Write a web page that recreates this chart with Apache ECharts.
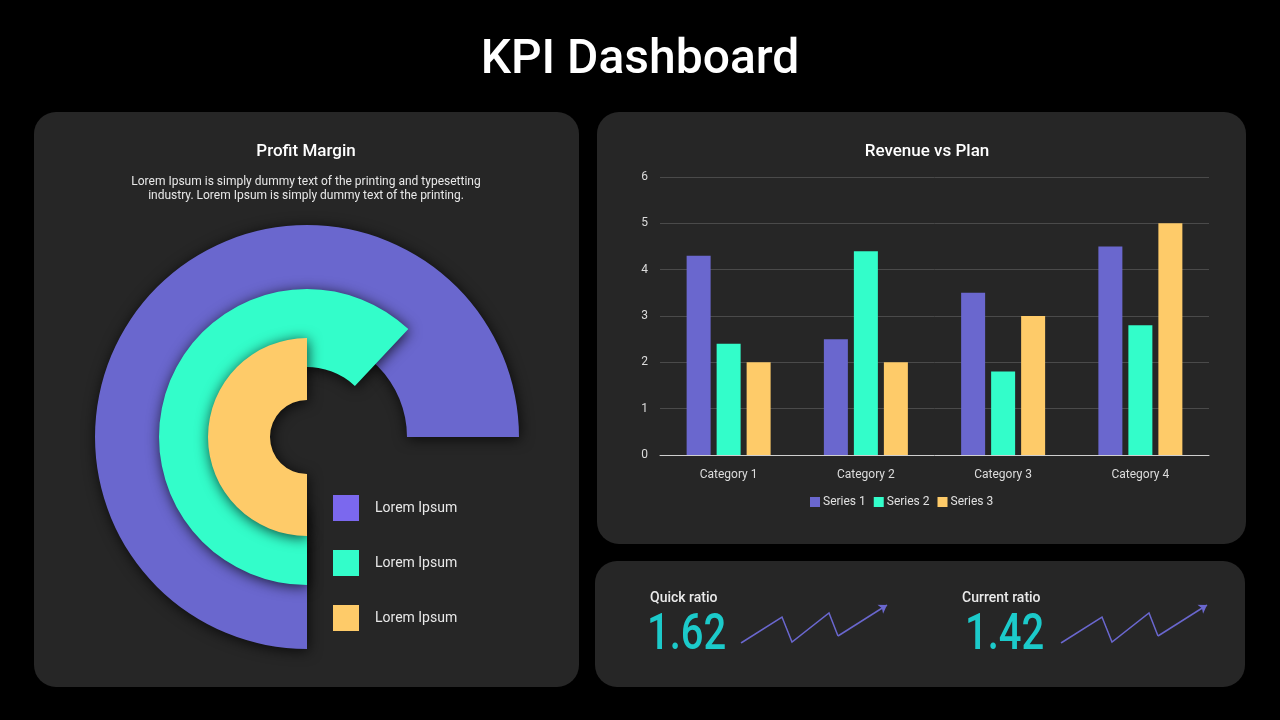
<!DOCTYPE html>
<html>
<head>
<meta charset="utf-8">
<script src="https://cdn.jsdelivr.net/npm/echarts@6/dist/echarts.min.js"></script>
<style>
html,body{margin:0;padding:0;background:#000;}
#c{width:1280px;height:720px;}
</style>
</head>
<body>
<div id="c"></div>
<script>
// ---- data ----
var pieNames = ['Lorem Ipsum A', 'Lorem Ipsum B', 'Lorem Ipsum C'];
var pieValues = [75, 62, 50];           // percent of a full circle
var categories = ['Category 1', 'Category 2', 'Category 3', 'Category 4'];
var seriesNames = ['Series 1', 'Series 2', 'Series 3'];
var series1 = [4.3, 2.5, 3.5, 4.5];
var series2 = [2.4, 4.4, 1.8, 2.8];
var series3 = [2.0, 2.0, 3.0, 5.0];
var kpiLabels = ['Quick ratio', 'Current ratio'];
var kpiValues = ['1.62', '1.42'];
var sparkX = [0, 41, 51, 88, 97, 146];
var sparkY = [0, 26, 1, 30, 7, 38];

// ---- styles ----
var FONT = 'Roboto, "DejaVu Sans", sans-serif';
var PURPLE = '#6A67CE', GREEN = '#33FDCA', YELLOW = '#FECB69';
var ringColors = [PURPLE, GREEN, YELLOW];
var legendColors = ['#7B68EE', GREEN, YELLOW];
var ringRadii = [[100, 212], [70, 148], [37, 99]];
var PANEL = '#262626';

var chart = echarts.init(document.getElementById('c'));

var pieSeries = pieValues.map(function (v, i) {
  return {
    type: 'pie',
    silent: true,
    center: [307, 437],
    radius: ringRadii[i],
    startAngle: 270,
    clockwise: true,
    label: {show: false},
    labelLine: {show: false},
    emphasis: {disabled: true},
    animation: false,
    data: [
      {name: pieNames[i], value: v, itemStyle: {color: ringColors[i], shadowBlur: 14, shadowColor: 'rgba(0,0,0,0.75)', shadowOffsetX: 1, shadowOffsetY: 2}},
      {name: 'rest' + i, value: 100 - v, itemStyle: {color: 'rgba(0,0,0,0)'}}
    ]
  };
});

function sparkPts() {
  return sparkX.map(function (x, i) { return [x, sparkY[i]]; });
}
function sparkSeries(idx) {
  var pts = sparkPts();
  var n = pts.length;
  return [{
    type: 'lines',
    coordinateSystem: 'cartesian2d',
    xAxisIndex: idx, yAxisIndex: idx,
    polyline: true,
    silent: true,
    lineStyle: {color: PURPLE, width: 1.5, opacity: 1},
    data: [{coords: pts.slice(0, n - 1)}]
  }, {
    type: 'lines',
    coordinateSystem: 'cartesian2d',
    xAxisIndex: idx, yAxisIndex: idx,
    silent: true,
    symbol: ['none', 'arrow'],
    symbolSize: 8,
    lineStyle: {color: PURPLE, width: 1.5, opacity: 1},
    data: [{coords: [pts[n - 2], pts[n - 1]]}]
  }];
}

var barColors = [PURPLE, GREEN, YELLOW];
var barData = [series1, series2, series3];

var option = {
  backgroundColor: '#000',
  animation: false,
  textStyle: {fontFamily: FONT},
  graphic: [
    {type: 'rect', shape: {x: 34, y: 112, width: 545, height: 575, r: 22}, style: {fill: PANEL}, z: -10},
    {type: 'rect', shape: {x: 597, y: 112, width: 649, height: 432, r: 22}, style: {fill: PANEL}, z: -10},
    {type: 'rect', shape: {x: 595, y: 561, width: 650, height: 126, r: 22}, style: {fill: PANEL}, z: -10},
    {type: 'text', x: 647, y: 636, scaleX: 0.8, style: {text: kpiValues[0], fill: '#1CCACA', font: '500 50px ' + FONT, textVerticalAlign: 'middle', verticalAlign: 'middle'}},
    {type: 'text', x: 965, y: 636, scaleX: 0.8, style: {text: kpiValues[1], fill: '#1CCACA', font: '500 50px ' + FONT, textVerticalAlign: 'middle', verticalAlign: 'middle'}}
  ],
  title: [
    {text: 'KPI Dashboard', left: 635, top: 32, textAlign: 'center',
      textStyle: {color: '#fff', fontSize: 48, fontWeight: 500, fontFamily: FONT}},
    {text: 'Profit Margin', left: 301, top: 138, textAlign: 'center',
      textStyle: {color: '#fff', fontSize: 17, fontWeight: 500, fontFamily: FONT}},
    {text: 'Lorem Ipsum is simply dummy text of the printing and typesetting\nindustry. Lorem Ipsum is simply dummy text of the printing.',
      left: 301, top: 170, textAlign: 'center',
      textStyle: {color: '#e8e8e8', fontSize: 12, fontWeight: 400, lineHeight: 14, fontFamily: FONT}},
    {text: 'Revenue vs Plan', left: 922, top: 138, textAlign: 'center',
      textStyle: {color: '#fff', fontSize: 17, fontWeight: 500, fontFamily: FONT}},
    {text: kpiLabels[0], left: 645, top: 586,
      textStyle: {color: '#eaeaea', fontSize: 14, fontWeight: 500, fontFamily: FONT}},
    {text: kpiLabels[1], left: 957, top: 586,
      textStyle: {color: '#eaeaea', fontSize: 14, fontWeight: 500, fontFamily: FONT}}
  ],
  legend: [
    {
      data: pieNames.map(function (n, i) { return {name: n, itemStyle: {color: legendColors[i]}}; }),
      orient: 'vertical', left: 328, top: 490,
      itemWidth: 26, itemHeight: 26, itemGap: 29,
      icon: 'rect', selectedMode: false,
      formatter: function () { return 'Lorem Ipsum'; },
      textStyle: {color: '#e8e8e8', fontSize: 14, padding: [0, 0, 0, 11], fontFamily: FONT}
    },
    {
      data: seriesNames, left: 805, top: 491,
      itemWidth: 10, itemHeight: 10, itemGap: 8, icon: 'rect', selectedMode: false,
      textStyle: {color: '#e0e0e0', fontSize: 12, padding: [0, 0, 0, -2], fontFamily: FONT}
    }
  ],
  grid: [
    {left: 660, right: 71, top: 177, bottom: 265},
    {left: 741, top: 605, width: 146, height: 38},
    {left: 1061, top: 605, width: 146, height: 38}
  ],
  xAxis: [
    {type: 'category', gridIndex: 0, data: categories,
      axisLine: {lineStyle: {color: '#cfcfcf', width: 1}},
      axisTick: {show: false},
      axisLabel: {color: '#dcdcdc', fontSize: 12, margin: 14, fontFamily: FONT}},
    {type: 'value', gridIndex: 1, min: 0, max: 146, show: false},
    {type: 'value', gridIndex: 2, min: 0, max: 146, show: false}
  ],
  yAxis: [
    {type: 'value', gridIndex: 0, min: 0, max: 6, interval: 1,
      axisLine: {show: false}, axisTick: {show: false},
      splitLine: {lineStyle: {color: '#4a4a4a', width: 1}},
      axisLabel: {color: '#dcdcdc', fontSize: 12, margin: 12, fontFamily: FONT}},
    {type: 'value', gridIndex: 1, min: 0, max: 38, show: false},
    {type: 'value', gridIndex: 2, min: 0, max: 38, show: false}
  ],
  series: pieSeries.concat(barData.map(function (d, i) {
    return {
      type: 'bar', name: seriesNames[i], data: d,
      xAxisIndex: 0, yAxisIndex: 0,
      barWidth: 24, barGap: '25%',
      itemStyle: {color: barColors[i]},
      silent: true
    };
  })).concat(sparkSeries(1)).concat(sparkSeries(2))
};

chart.setOption(option);
</script>
</body>
</html>
